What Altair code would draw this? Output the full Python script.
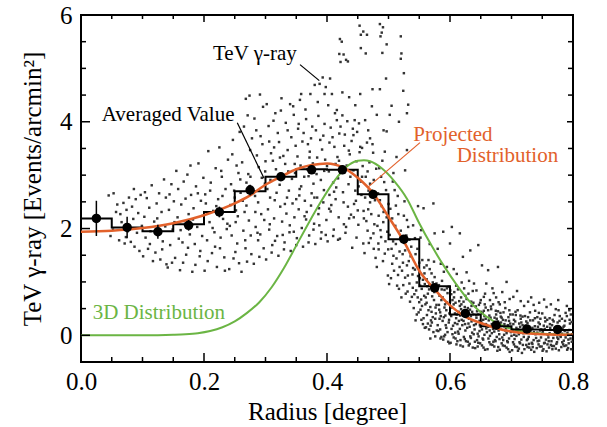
import altair as alt
import pandas as pd

# ---------------- scatter of TeV gamma-ray events ----------------
scatter_left = [
    (.045,2.62),(.053,2.66),(.052,1.98),(.057,2.31),(.048,1.86),(.059,2.45),
    (.062,1.78),(.066,2.12),(.069,2.48),(.071,1.72),(.074,2.35),(.076,1.95),(.078,2.58),(.064,2.27),(.073,1.84),
    (.081,1.75),(.083,2.41),(.085,2.18),(.087,1.66),(.089,2.55),(.091,1.92),(.093,2.29),(.095,1.58),(.097,2.63),(.099,2.05),(.086,2.74),
    (.101,1.48),(.103,2.22),(.105,1.83),(.107,2.57),(.109,1.62),(.111,2.39),(.113,1.95),(.115,2.81),(.117,1.39),(.119,2.13),(.104,2.68),(.112,1.71),
    (.121,1.55),(.123,2.47),(.125,1.88),(.127,2.66),(.129,1.42),(.131,2.31),(.133,1.76),(.135,2.92),(.137,2.04),(.139,1.33),(.124,2.19),(.132,1.61),(.138,2.58),
    (.141,1.27),(.143,2.35),(.145,1.69),(.147,2.83),(.149,1.98),(.151,2.51),(.153,1.45),(.155,3.08),(.157,2.21),(.159,1.81),(.144,2.64),(.148,1.36),(.152,2.12),(.158,2.74),
    (.161,1.22),(.163,2.45),(.165,1.74),(.167,2.88),(.169,2.09),(.171,1.51),(.173,3.01),(.175,2.27),(.177,1.89),(.179,2.63),(.162,1.97),(.166,1.36),(.170,2.56),(.174,1.64),(.178,3.18),
    (.181,1.19),(.183,2.38),(.185,1.71),(.187,2.79),(.189,2.03),(.191,3.22),(.193,1.48),(.195,2.52),(.197,1.86),(.199,2.95),(.182,2.17),(.186,1.32),(.190,2.66),(.194,1.58),(.198,2.24),
    (.201,1.21),(.203,2.47),(.205,1.78),(.207,3.45),(.209,2.12),(.211,2.86),(.213,1.54),(.215,2.33),(.217,1.93),(.219,3.13),(.202,2.64),(.206,1.39),(.210,2.71),(.214,2.01),(.218,1.66),(.220,2.42),
    (.221,1.28),(.223,2.55),(.225,3.52),(.227,1.83),(.229,2.97),(.231,2.18),(.233,1.46),(.235,2.74),(.237,1.99),(.239,3.29),(.222,2.36),(.226,1.63),(.230,2.61),(.234,1.21),(.238,2.09),(.228,3.08),
]
scatter_rise = [
    (.241,1.24),(.243,2.44),(.245,1.87),(.247,3.66),(.249,2.71),(.251,1.56),(.253,3.18),(.255,2.23),(.257,1.35),(.259,2.92),(.242,2.05),(.246,3.39),(.250,2.58),(.254,1.72),(.258,3.81),(.244,2.83),(.248,1.44),(.252,2.34),(.256,3.04),
    (.261,1.19),(.263,2.52),(.265,3.91),(.267,1.78),(.269,2.86),(.271,4.12),(.273,2.15),(.275,3.47),(.277,1.52),(.279,2.68),(.262,3.24),(.264,1.96),(.266,2.31),(.268,4.43),(.270,1.38),(.272,3.02),(.274,2.79),(.276,1.87),(.278,3.69),(.274,4.49),(.269,2.43),
    (.281,1.34),(.283,2.61),(.285,3.84),(.287,1.92),(.289,3.15),(.291,4.51),(.293,2.27),(.295,3.58),(.297,1.63),(.299,2.84),(.282,4.06),(.284,2.03),(.286,3.37),(.288,2.49),(.290,1.47),(.292,3.73),(.294,2.95),(.296,4.28),(.298,2.16),(.288,1.78),(.300,3.26),
    (.301,1.42),(.303,2.74),(.305,3.92),(.307,2.08),(.309,3.41),(.311,1.69),(.313,4.02),(.315,2.53),(.317,3.11),(.319,1.86),(.302,4.33),(.304,2.36),(.306,3.63),(.308,2.91),(.310,1.55),(.312,3.27),(.314,2.19),(.316,4.16),(.318,2.67),(.320,3.79),(.306,1.98),(.314,3.52),
    (.321,1.49),(.323,2.82),(.325,4.21),(.327,2.13),(.329,3.36),(.331,1.74),(.333,3.98),(.335,2.58),(.337,3.07),(.339,1.93),(.322,3.62),(.324,2.41),(.326,4.44),(.328,2.97),(.330,1.61),(.332,3.21),(.334,2.28),(.336,3.84),(.338,2.71),(.340,4.33),(.328,1.88),(.336,3.47),
]
scatter_peak = [
    (.341,1.58),(.343,2.93),(.345,4.29),(.347,2.21),(.349,3.55),(.351,1.82),(.353,3.87),(.355,2.62),(.357,3.18),(.359,2.01),(.342,3.71),(.344,2.47),(.346,4.13),(.348,3.04),(.350,1.69),(.352,3.35),(.354,2.36),(.356,4.41),(.358,2.79),(.360,3.63),(.346,1.94),(.354,3.96),(.350,2.55),(.358,4.52),
    (.361,1.66),(.363,2.97),(.365,4.23),(.367,2.31),(.369,3.58),(.371,1.87),(.373,4.52),(.375,2.66),(.377,3.22),(.379,2.09),(.362,3.79),(.364,2.52),(.366,4.05),(.368,3.11),(.370,1.74),(.372,3.44),(.374,2.43),(.376,3.91),(.378,2.84),(.380,4.69),(.366,2.17),(.374,3.69),(.370,2.98),(.378,1.98),
    (.381,1.71),(.383,3.02),(.385,4.37),(.387,2.38),(.389,3.66),(.391,1.93),(.393,4.83),(.395,2.72),(.397,3.29),(.399,2.16),(.382,3.84),(.384,2.58),(.386,4.11),(.388,4.71),(.390,1.81),(.392,3.48),(.394,2.49),(.396,3.96),(.398,4.65),(.400,3.17),(.386,2.27),(.394,3.74),(.390,2.91),(.398,1.88),(.384,3.33),(.396,4.52),
    (.401,1.76),(.403,3.07),(.405,4.81),(.407,2.44),(.409,3.71),(.411,1.98),(.413,4.16),(.415,2.77),(.417,3.34),(.419,2.21),(.402,4.31),(.404,2.63),(.406,3.89),(.408,4.52),(.410,1.86),(.412,3.53),(.414,2.55),(.416,4.03),(.418,2.94),(.420,3.78),(.406,2.32),(.414,3.21),(.410,2.86),(.418,1.79),(.404,3.61),(.416,4.22),
    (.421,5.55),(.424,5.50),(.420,5.27),(.427,5.26),(.431,5.16),(.434,5.13),(.422,5.12),(.425,4.55),(.436,4.46),
    (.421,1.81),(.423,3.12),(.425,4.12),(.427,2.49),(.429,3.76),(.431,2.03),(.433,4.01),(.435,2.83),(.437,3.39),(.439,2.26),(.422,3.91),(.426,2.68),(.428,3.55),(.432,3.18),(.434,2.41),(.438,2.97),(.440,3.64),(.430,1.92),(.436,2.19),
    (.453,5.80),(.459,5.69),(.455,5.63),(.455,5.38),(.446,4.31),(.454,4.52),(.443,3.75),
    (.441,1.64),(.443,3.09),(.445,4.03),(.447,2.52),(.449,3.81),(.451,2.07),(.453,3.43),(.455,2.88),(.457,3.51),(.459,1.72),(.442,3.87),(.446,2.71),(.448,3.26),(.450,2.34),(.452,3.97),(.456,2.63),(.458,3.17),(.460,2.19),(.444,2.46),(.448,1.83),(.454,3.53),(.457,2.97),
]
scatter_fall = [
    (.465,5.63),(.463,5.28),(.474,4.61),(.467,3.84),(.462,4.03),(.470,3.69),(.473,4.29),
    (.461,1.54),(.463,2.97),(.465,3.61),(.467,2.36),(.469,3.24),(.471,1.82),(.473,2.71),(.475,3.42),(.477,2.08),(.479,1.45),(.462,2.58),(.464,2.14),(.466,3.07),(.468,1.73),(.470,2.84),(.472,2.27),(.474,3.58),(.476,1.62),(.478,2.53),(.480,3.12),(.466,1.96),(.470,2.49),(.476,2.91),
    (.486,5.83),(.491,5.77),(.489,5.67),(.487,5.60),(.497,5.45),(.490,5.29),(.496,4.81),(.486,4.61),(.481,4.13),(.492,3.84),(.497,3.82),(.494,3.44),
    (.481,1.28),(.483,2.66),(.485,3.13),(.487,1.97),(.489,2.42),(.491,1.39),(.493,2.87),(.495,1.76),(.497,2.21),(.499,1.12),(.482,2.05),(.484,1.61),(.486,2.53),(.488,1.84),(.490,3.27),(.492,2.31),(.494,1.53),(.496,2.72),(.498,1.94),(.500,2.46),(.488,2.97),(.484,2.24),
    (.505,4.30),(.520,5.60),(.520,5.18),(.521,5.28),(.513,3.34),(.517,4.00),(.502,4.13),
    (.501,0.96),(.503,2.37),(.505,1.62),(.507,2.88),(.509,1.21),(.511,2.05),(.513,1.44),(.515,2.61),(.517,0.87),(.519,1.83),(.502,1.88),(.504,1.07),(.506,2.19),(.508,1.49),(.510,2.72),(.512,1.71),(.514,0.93),(.516,2.27),(.518,1.28),(.520,1.96),(.508,3.04),(.512,2.43),(.506,1.34),(.518,1.57),
    (.525,4.91),(.524,4.58),(.532,4.32),(.530,4.16),(.527,3.09),(.530,3.47),(.530,2.16),(.540,2.06),(.527,1.59),
    (.521,0.71),(.523,1.52),(.525,2.24),(.527,1.08),(.529,1.87),(.531,0.82),(.533,1.39),(.535,0.63),(.537,1.66),(.539,1.14),(.522,1.21),(.524,0.94),(.526,1.73),(.528,0.78),(.530,1.31),(.532,2.03),(.534,0.97),(.536,1.48),(.538,0.72),(.540,1.26),(.526,2.51),(.534,1.79),
]
scatter_mid_extra = [
    (.2515,2.12),(.2595,2.67),(.2675,1.63),(.2755,2.97),(.2835,2.31),(.2915,1.89),(.2995,3.07),(.3075,2.58),(.3155,1.77),(.3235,3.33),
    (.3315,2.46),(.3395,2.06),(.3475,3.21),(.3555,2.74),(.3635,2.23),(.3715,3.33),(.3795,2.58),(.3875,2.06),(.3955,3.08),(.4035,2.37),
    (.4115,2.69),(.4195,3.27),(.4275,2.08),(.4355,3.46),(.4435,2.21),(.4515,2.79),(.4595,2.33),(.4675,2.71),(.4755,1.91),(.4835,1.72),
    (.4915,2.12),(.4995,1.61),(.5075,1.76),(.5155,1.13),(.5235,1.36),(.5315,1.12),(.5395,0.89),(.5475,0.71),
]
scatter_tail1 = [
    (.541,0.51),(.543,1.23),(.545,0.84),(.547,1.62),(.549,0.43),(.551,1.07),(.553,0.67),(.555,1.41),(.557,0.32),(.559,0.96),(.542,0.77),(.544,1.52),(.546,0.39),(.548,1.11),(.550,0.62),(.552,1.83),(.554,0.87),(.556,0.21),(.558,1.27),(.560,0.58),(.546,0.99),(.552,0.48),(.556,1.04),(.544,0.28),(.558,0.74),(.550,1.36),(.565,1.41),(.548,2.42),(.553,1.97),(.557,2.38),(.543,1.82),(.559,0.14),
    (.561,0.15),(.563,0.92),(.565,0.47),(.567,1.24),(.569,0.28),(.571,0.73),(.573,0.06),(.575,1.09),(.577,0.41),(.579,0.84),(.562,0.61),(.564,0.22),(.566,0.86),(.568,0.53),(.570,1.16),(.572,0.34),(.574,0.66),(.576,-0.02),(.578,0.97),(.580,0.19),(.562,1.31),(.566,0.11),(.570,0.44),(.574,1.38),(.578,0.57),(.564,0.78),(.568,-0.06),(.572,0.99),(.576,0.31),(.573,2.47),(.580,1.62),(.567,1.71),(.575,1.91),(.562,1.05),
    (.581,0.08),(.583,0.74),(.585,0.36),(.587,1.02),(.589,-0.08),(.591,0.52),(.593,0.19),(.595,0.88),(.597,-0.12),(.599,0.41),(.582,0.57),(.584,0.11),(.586,0.66),(.588,0.27),(.590,1.19),(.592,0.01),(.594,0.47),(.596,0.79),(.598,0.24),(.600,0.63),(.582,0.94),(.586,-0.03),(.590,0.34),(.594,0.14),(.598,0.91),(.584,0.43),(.588,0.71),(.592,0.58),(.596,0.06),(.589,1.94),(.600,1.72),(.585,1.34),(.595,1.28),(.591,0.85),(.599,-0.15),(.583,0.31),
    (.601,-0.14),(.603,0.52),(.605,0.18),(.607,0.81),(.609,-0.06),(.611,0.39),(.613,0.07),(.615,0.64),(.617,-0.19),(.619,0.29),(.602,0.36),(.604,0.02),(.606,0.58),(.608,0.23),(.610,0.93),(.612,-0.11),(.614,0.44),(.616,0.12),(.618,0.71),(.620,0.19),(.602,0.77),(.606,-0.04),(.610,0.32),(.614,0.03),(.618,0.49),(.604,0.66),(.608,0.41),(.612,0.21),(.616,0.55),(.603,2.03),(.616,1.91),(.621,1.47),(.611,1.15),(.606,1.24),(.619,0.99),(.609,0.61),(.613,0.86),(.617,-0.09),
    (.621,-0.21),(.623,0.42),(.625,0.09),(.627,0.68),(.629,-0.12),(.631,0.31),(.633,-0.02),(.635,0.55),(.637,-0.23),(.639,0.19),(.622,0.27),(.624,-0.07),(.626,0.47),(.628,0.14),(.630,0.78),(.632,-0.16),(.634,0.36),(.636,0.05),(.638,0.61),(.640,0.11),(.622,0.63),(.626,-0.11),(.630,0.22),(.634,-0.05),(.638,0.39),(.624,0.53),(.628,0.34),(.632,0.16),(.636,0.44),(.633,1.59),(.627,1.18),(.639,0.97),(.623,0.88),(.631,1.02),(.637,0.83),(.625,0.74),(.629,0.51),(.635,0.26),
]
scatter_tail2 = [
    (.641,-0.24),(.643,0.33),(.645,0.03),(.647,0.57),(.649,-0.15),(.651,0.24),(.653,-0.06),(.655,0.46),(.657,-0.27),(.659,0.13),(.642,0.21),(.644,-0.09),(.646,0.39),(.648,0.08),(.650,0.66),(.652,-0.19),(.654,0.29),(.656,0.01),(.658,0.52),(.660,0.06),(.642,0.54),(.646,-0.14),(.650,0.16),(.654,-0.08),(.658,0.31),(.644,0.45),(.648,0.27),(.652,0.11),(.656,0.36),(.646,1.69),(.652,1.31),(.659,0.97),(.643,0.84),(.655,0.72),(.649,0.61),(.657,0.78),(.645,-0.21),(.653,0.42),
    (.661,-0.26),(.663,0.28),(.665,-0.01),(.667,0.49),(.669,-0.18),(.671,0.17),(.673,-0.09),(.675,0.39),(.677,-0.29),(.679,0.09),(.662,0.16),(.664,-0.13),(.666,0.33),(.668,0.04),(.670,0.58),(.672,-0.21),(.674,0.23),(.676,-0.03),(.678,0.45),(.680,0.02),(.662,0.47),(.666,-0.17),(.670,0.12),(.674,-0.11),(.678,0.26),(.664,0.37),(.668,0.21),(.672,0.07),(.676,0.31),(.662,1.22),(.678,1.28),(.669,0.88),(.675,0.71),(.665,0.66),(.671,0.79),(.679,0.62),
    (.681,-0.27),(.683,0.24),(.685,-0.04),(.687,0.43),(.689,-0.20),(.691,0.13),(.693,-0.11),(.695,0.34),(.697,-0.31),(.699,0.06),(.682,0.12),(.684,-0.15),(.686,0.29),(.688,0.01),(.690,0.51),(.692,-0.23),(.694,0.19),(.696,-0.06),(.698,0.39),(.700,-0.01),(.682,0.42),(.686,-0.19),(.690,0.09),(.694,-0.13),(.698,0.22),(.684,0.33),(.688,0.17),(.692,0.04),(.696,0.27),(.692,1.00),(.685,0.81),(.697,0.68),(.689,0.62),(.681,0.58),
    (.701,-0.28),(.703,0.21),(.705,-0.07),(.707,0.38),(.709,-0.22),(.711,0.11),(.713,-0.13),(.715,0.31),(.717,-0.33),(.719,0.04),(.702,0.09),(.704,-0.17),(.706,0.26),(.708,-0.01),(.710,0.47),(.712,-0.25),(.714,0.16),(.716,-0.08),(.718,0.35),(.720,-0.03),(.702,0.39),(.706,-0.21),(.710,0.07),(.714,-0.15),(.718,0.19),(.704,0.29),(.708,0.14),(.712,0.02),(.716,0.24),(.709,0.83),(.715,0.64),(.703,0.72),
    (.721,-0.26),(.723,0.18),(.725,-0.09),(.727,0.34),(.729,-0.23),(.731,0.09),(.733,-0.14),(.735,0.28),(.737,-0.31),(.739,0.02),(.722,0.07),(.724,-0.18),(.726,0.23),(.728,-0.03),(.730,0.43),(.732,-0.27),(.734,0.14),(.736,-0.09),(.738,0.32),(.740,-0.05),(.722,0.36),(.726,-0.22),(.730,0.05),(.734,-0.16),(.738,0.17),(.724,0.26),(.728,0.12),(.732,0.71),(.736,0.57),(.727,0.63),
    (.741,-0.24),(.743,0.16),(.745,-0.10),(.747,0.31),(.749,-0.21),(.751,0.07),(.753,-0.15),(.755,0.26),(.757,-0.30),(.759,0.01),(.742,0.05),(.744,-0.17),(.746,0.21),(.748,-0.04),(.750,0.41),(.752,-0.26),(.754,0.12),(.756,-0.08),(.758,0.29),(.760,-0.04),(.742,0.34),(.746,-0.21),(.750,0.03),(.754,-0.14),(.758,0.16),(.744,0.24),(.748,0.11),(.753,0.67),(.757,0.53),(.745,0.61),
    (.761,-0.23),(.763,0.14),(.765,-0.11),(.767,0.29),(.769,-0.20),(.771,0.06),(.773,-0.16),(.775,0.24),(.777,-0.28),(.779,0.00),(.762,0.04),(.764,-0.18),(.766,0.19),(.768,-0.05),(.770,0.38),(.772,-0.25),(.774,0.11),(.776,-0.07),(.778,0.27),(.780,-0.03),(.762,0.32),(.766,-0.20),(.770,0.02),(.774,-0.13),(.778,0.15),(.764,0.58),(.772,0.49),(.776,0.66),
    (.781,-0.22),(.783,0.12),(.785,-0.10),(.787,0.27),(.789,-0.19),(.791,0.05),(.793,-0.15),(.795,0.22),(.797,-0.26),(.782,0.03),(.784,-0.17),(.786,0.18),(.788,-0.04),(.790,0.36),(.792,-0.24),(.794,0.10),(.796,-0.06),(.798,0.25),(.782,0.31),(.786,-0.20),(.790,0.55),(.794,0.47),(.798,-0.12),(.788,0.42),
]
scatter_tail_extra = [
    (.5515,0.93),(.5545,0.55),(.5585,1.16),(.5625,0.38),(.5665,0.95),(.5705,0.24),(.5745,0.81),(.5785,0.09),(.5825,0.48),(.5865,0.86),
    (.5905,-0.02),(.5945,0.62),(.5985,0.29),(.6025,0.12),(.6065,0.71),(.6105,-0.17),(.6145,0.27),(.6185,0.58),(.6225,-0.03),(.6265,0.35),
    (.6305,-0.19),(.6345,0.63),(.6385,0.02),(.6425,0.38),(.6465,-0.02),(.6505,0.44),(.6545,-0.23),(.6585,0.21),(.6625,-0.06),(.6665,0.54),
    (.6705,-0.12),(.6745,0.46),(.6785,-0.22),(.6825,0.35),(.6865,-0.09),(.6905,0.28),(.6945,-0.26),(.6985,0.14),(.7025,-0.13),(.7065,0.44),
    (.7105,-0.29),(.7145,0.37),(.7185,-0.18),(.7225,0.12),(.7265,-0.07),(.7305,0.28),(.7345,-0.22),(.7385,0.46),(.7425,-0.11),(.7465,0.09),
    (.7505,-0.29),(.7545,0.33),(.7585,-0.17),(.7625,0.21),(.7665,-0.26),(.7705,0.13),(.7745,-0.04),(.7785,0.36),(.7825,-0.13),(.7865,0.08),
    (.7905,-0.27),(.7945,0.29),(.7985,0.02),
    (.5535,0.29),(.5605,0.71),(.5685,0.18),(.5765,0.52),(.5845,-0.06),(.5925,0.37),(.6005,0.84),(.6085,0.05),(.6165,0.37),(.6245,0.21),
    (.6325,0.48),(.6405,-0.12),(.6485,0.19),(.6565,0.58),(.6645,0.09),(.6725,0.33),(.6805,-0.07),(.6885,0.21),(.6965,0.47),(.7045,0.01),
    (.7125,0.22),(.7205,0.55),(.7285,-0.16),(.7365,0.06),(.7445,0.42),(.7525,0.18),(.7605,-0.11),(.7685,0.26),(.7765,0.47),(.7845,0.16),
    (.7925,-0.08),(.7965,0.39),
]

# ---------------- averaged value histogram ----------------
step_edges  = [0.00, 0.05, 0.10, 0.15, 0.20, 0.25, 0.30, 0.35, 0.40, 0.45, 0.50, 0.55, 0.60, 0.65, 0.70, 0.75, 0.80]
step_values = [2.19, 2.02, 1.95, 2.08, 2.31, 2.70, 2.97, 3.11, 3.10, 2.64, 1.80, 0.92, 0.39, 0.17, 0.11, 0.10, 0.10]
avg_r   = [0.025, 0.075, 0.125, 0.175, 0.225, 0.275, 0.325, 0.375, 0.425, 0.475, 0.525, 0.575, 0.625, 0.675, 0.725, 0.775]
avg_v   = [2.19, 2.02, 1.94, 2.06, 2.31, 2.72, 2.97, 3.10, 3.10, 2.64, 1.80, 0.89, 0.41, 0.19, 0.12, 0.11]
avg_err = [0.33, 0.20, 0.13, 0.10, 0.10, 0.10, 0.08, 0.08, 0.08, 0.08, 0.08, 0.06, 0.05, 0.05, 0.05, 0.05]

# ---------------- model curves ----------------
proj_r = [0.0, 0.05, 0.10, 0.15, 0.20, 0.25, 0.275, 0.30, 0.325, 0.35, 0.375, 0.40, 0.425, 0.45, 0.475, 0.50, 0.525, 0.55, 0.575, 0.60, 0.625, 0.65, 0.70, 0.75, 0.80]
proj_v = [1.94, 1.96, 2.01, 2.10, 2.25, 2.47, 2.62, 2.82, 2.97, 3.11, 3.19, 3.22, 3.15, 2.95, 2.66, 2.22, 1.76, 1.21, 0.86, 0.56, 0.35, 0.23, 0.07, 0.02, 0.01]
d3_r = [0.0, 0.10, 0.15, 0.17, 0.19, 0.21, 0.23, 0.25, 0.27, 0.29, 0.31, 0.33, 0.35, 0.37, 0.39, 0.41, 0.43, 0.45, 0.46, 0.47, 0.49, 0.51, 0.53, 0.55, 0.57, 0.59, 0.61, 0.63, 0.65, 0.67, 0.69, 0.71, 0.73, 0.75, 0.80]
d3_v = [0.0, 0.0, 0.01, 0.02, 0.04, 0.08, 0.15, 0.26, 0.42, 0.62, 0.90, 1.26, 1.68, 2.10, 2.50, 2.86, 3.14, 3.27, 3.28, 3.26, 3.12, 2.88, 2.56, 2.10, 1.68, 1.30, 0.96, 0.66, 0.43, 0.27, 0.16, 0.09, 0.05, 0.03, 0.01]

# ---------------- annotations ----------------
ORANGE = "#E2612B"
GREEN = "#6BB544"
ann_text  = ["TeV γ-ray", "Averaged Value", "Projected", "Distribution", "3D Distribution"]
ann_r     = [0.2146, 0.0337, 0.5403, 0.6109, 0.019]
ann_v     = [5.16, 4.02, 3.645, 3.24, 0.313]
ann_color = ["black", "black", ORANGE, ORANGE, GREEN]
lead_r1 = [0.3561, 0.2541, 0.5512]
lead_v1 = [5.07, 3.98, 3.61]
lead_r2 = [0.3875, 0.2976, 0.4672]
lead_v2 = [4.77, 2.94, 2.78]
lead_color = ["black", "black", ORANGE]

x_major = [0.0, 0.2, 0.4, 0.6, 0.8]
x_minor = [0.05, 0.10, 0.15, 0.25, 0.30, 0.35, 0.45, 0.50, 0.55, 0.65, 0.70, 0.75]
y_major = [0, 2, 4, 6]
y_minor = [-0.5, 0.5, 1, 1.5, 2.5, 3, 3.5, 4.5, 5, 5.5]

W, H = 492, 347
FONT = "Liberation Serif, Times New Roman, Times, DejaVu Serif, serif"

scatter_df = pd.DataFrame(scatter_left + scatter_rise + scatter_peak + scatter_mid_extra + scatter_fall
                          + scatter_tail1 + scatter_tail2 + scatter_tail_extra, columns=["r", "v"])
step_df = pd.DataFrame({"r": step_edges, "v": step_values})
avg_df = pd.DataFrame({"r": avg_r, "v": avg_v, "err": avg_err})
avg_df["lo"] = avg_df["v"] - avg_df["err"]
avg_df["hi"] = avg_df["v"] + avg_df["err"]
proj_df = pd.DataFrame({"r": proj_r, "v": proj_v})
d3_df = pd.DataFrame({"r": d3_r, "v": d3_v})
ann_df = pd.DataFrame({"r": ann_r, "v": ann_v, "t": ann_text, "c": ann_color})
lead_df = pd.DataFrame({"r": lead_r1, "v": lead_v1, "r2": lead_r2, "v2": lead_v2, "c": lead_color})

xscale = alt.Scale(domain=[0, 0.8], nice=False, zero=False)
yscale = alt.Scale(domain=[-0.5, 6], nice=False, zero=False)
common_axis = dict(ticks=False, tickSize=0, domain=False, grid=False, labelFlush=False,
                   labelFont=FONT, titleFont=FONT, labelFontSize=25, titleFontSize=25,
                   labelColor="black", titleColor="black", titleFontWeight="normal")
xaxis = alt.Axis(values=x_major, format=".1f", title="Radius [degree]",
                 labelPadding=7, titlePadding=5, **common_axis)
yaxis = alt.Axis(values=y_major, format="d", title="TeV γ-ray [Events/arcmin²]",
                 labelPadding=9, titlePadding=14, **common_axis)

X = alt.X("r:Q", scale=xscale, axis=xaxis)
Y = alt.Y("v:Q", scale=yscale, axis=yaxis)

scatter = alt.Chart(scatter_df).mark_square(size=6, color="#333333", opacity=1).encode(x=X, y=Y)
green = alt.Chart(d3_df).mark_line(color=GREEN, strokeWidth=2, interpolate="monotone").encode(x=X, y=Y)
step = alt.Chart(step_df).mark_line(color="black", strokeWidth=2, interpolate="step-after").encode(x=X, y=Y)
orange = alt.Chart(proj_df).mark_line(color=ORANGE, strokeWidth=2.5, interpolate="monotone").encode(x=X, y=Y)
errs = alt.Chart(avg_df).mark_rule(color="black", strokeWidth=1.5).encode(x=X, y=alt.Y("lo:Q", scale=yscale, axis=yaxis), y2="hi:Q")
pts = alt.Chart(avg_df).mark_circle(size=90, color="black", opacity=1).encode(x=X, y=Y)
texts = alt.Chart(ann_df).mark_text(align="left", baseline="alphabetic", font=FONT, fontSize=21).encode(
    x=X, y=Y, text="t:N", color=alt.Color("c:N", scale=None))
leads = alt.Chart(lead_df).mark_rule(strokeWidth=1.2).encode(
    x=X, y=Y, x2="r2:Q", y2="v2:Q", color=alt.Color("c:N", scale=None))

def xt(vals, y0, y1):
    return alt.Chart(pd.DataFrame({"r": vals})).mark_rule(color="black", strokeWidth=1.5).encode(
        x=X, y=alt.value(y0), y2=alt.value(y1))

def yt(vals, x0, x1):
    return alt.Chart(pd.DataFrame({"v": vals})).mark_rule(color="black", strokeWidth=1.5).encode(
        y=Y, x=alt.value(x0), x2=alt.value(x1))

ticks = [xt(x_major, H, H - 9), xt(x_minor, H, H - 5), xt(x_major, 0, 7), xt(x_minor, 0, 4),
         yt(y_major, 0, 9), yt(y_minor, 0, 5), yt(y_major, W, W - 6), yt(y_minor, W, W - 5)]

chart = alt.layer(scatter, green, step, orange, errs, pts, leads, texts, *ticks).properties(
    width=W, height=H,
    autosize=alt.AutoSizeParams(type="none"),
    padding={"left": 81, "top": 15, "right": 34, "bottom": 65},
).configure_view(stroke="black", strokeWidth=2)

chart.save("out.html", embed_options={"renderer": "svg", "actions": False})
